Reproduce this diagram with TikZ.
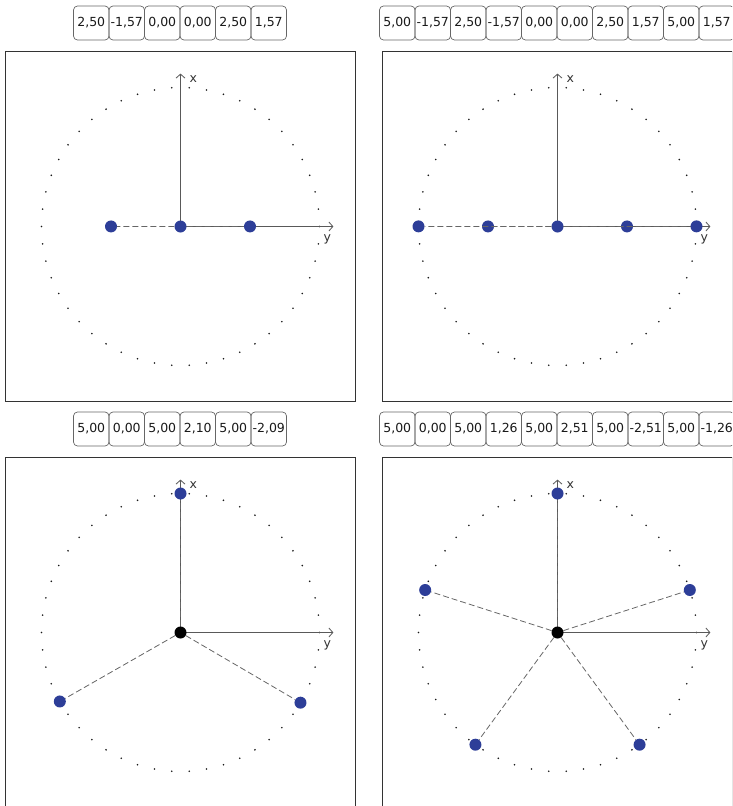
\documentclass[tikz,border=0pt]{standalone}
\usepackage{fontspec}
\setmainfont{DejaVu Sans}
\usepackage{xcolor}
\usetikzlibrary{arrows.meta, positioning}
\definecolor{ptblue}{HTML}{2D3E98}

\begin{document}
\begin{tikzpicture}[
  x=1pt, y=1pt,
  valbox/.style={rectangle, draw=black!60, line width=0.7pt, rounded corners=4pt, minimum width=35.5pt, minimum height=34pt, inner sep=0pt, outer sep=0pt, font=\fontsize{12.5}{14}\selectfont, text=black!90},
  panelframe/.style={rectangle, draw=black!80, line width=1.8pt, minimum size=350pt, inner sep=0pt, outer sep=0pt},
  ringdot/.style={fill=black!90},
  axisline/.style={-{Straight Barb[length=4pt, width=9pt]}, black!65, line width=0.8pt},
  axlabel/.style={inner sep=0pt, font=\fontsize{12.5}{14}\selectfont, text=black!80},
  spoke/.style={dash pattern=on 6pt off 3pt, black!60, line width=0.8pt},
  datapt/.style={circle, fill=ptblue, minimum size=12pt, inner sep=0pt},
  origindot/.style={circle, fill=black, minimum size=12pt, inner sep=0pt}
]
  \useasboundingbox (0,0) rectangle (732,-806);
  \clip (0,0) rectangle (732,-806);

  % value rows
  \node[valbox] (A1) at (91.25,-23) {2,50};
  \foreach \v [count=\i from 2, remember=\i as \j (initially 1)] in {{-1,57},{0,00},{0,00},{2,50},{1,57}}
    \node[valbox, right=0pt of A\j] (A\i) {\v};
  \node[valbox] (B1) at (397.25,-23) {5,00};
  \foreach \v [count=\i from 2, remember=\i as \j (initially 1)] in {{-1,57},{2,50},{-1,57},{0,00},{0,00},{2,50},{1,57},{5,00},{1,57}}
    \node[valbox, right=0pt of B\j] (B\i) {\v};
  \node[valbox] (D1) at (91.25,-429) {5,00};
  \foreach \v [count=\i from 2, remember=\i as \j (initially 1)] in {{0,00},{5,00},{2,10},{5,00},{-2,09}}
    \node[valbox, right=0pt of D\j] (D\i) {\v};
  \node[valbox] (E1) at (397.25,-429) {5,00};
  \foreach \v [count=\i from 2, remember=\i as \j (initially 1)] in {{0,00},{5,00},{1,26},{5,00},{2,51},{5,00},{-2,51},{5,00},{-1,26}}
    \node[valbox, right=0pt of E\j] (E\i) {\v};

  % panel 1
  \begin{scope}[shift={(180.5,-226.5)}, x=27.8pt, y=27.8pt]
    \node[panelframe] (F1) at (0,0) {};
    \foreach \k in {0,...,49} \fill[ringdot] ({7.2*\k}:5) circle (0.9pt);
    \coordinate (C1) at (0,0);
    \coordinate (X1) at (0,5.5);
    \coordinate (Y1) at (5.5,0);
    \draw[axisline] (C1) -- (X1);
    \draw[axisline] (C1) -- (Y1);
    \node[axlabel, right=9pt of X1, yshift=-5pt] (XL1) {x};
    \node[axlabel, below=8pt of Y1, xshift=-6pt] (YL1) {y};
    \foreach \r/\t [count=\i] in {2.5/-1.57, 0/0, 2.5/1.57}
      \node[datapt] (P1\i) at ({90-deg(\t)}:\r) {};
    \foreach \p in {1,3} \draw[spoke] (P12) -- (P1\p);
  \end{scope}

  % panel 2
  \begin{scope}[shift={(557.5,-226.5)}, x=27.8pt, y=27.8pt]
    \node[panelframe] (F2) at (0,0) {};
    \foreach \k in {0,...,49} \fill[ringdot] ({7.2*\k}:5) circle (0.9pt);
    \coordinate (C2) at (0,0);
    \coordinate (X2) at (0,5.5);
    \coordinate (Y2) at (5.5,0);
    \draw[axisline] (C2) -- (X2);
    \draw[axisline] (C2) -- (Y2);
    \node[axlabel, right=9pt of X2, yshift=-5pt] (XL2) {x};
    \node[axlabel, below=8pt of Y2, xshift=-6pt] (YL2) {y};
    \foreach \r/\t [count=\i] in {5/-1.57, 2.5/-1.57, 0/0, 2.5/1.57, 5/1.57}
      \node[datapt] (P2\i) at ({90-deg(\t)}:\r) {};
    \foreach \p in {1,2,4,5} \draw[spoke] (P23) -- (P2\p);
  \end{scope}

  % panel 3
  \begin{scope}[shift={(180.5,-632.5)}, x=27.8pt, y=27.8pt]
    \node[panelframe] (F3) at (0,0) {};
    \foreach \k in {0,...,49} \fill[ringdot] ({7.2*\k}:5) circle (0.9pt);
    \coordinate (C3) at (0,0);
    \coordinate (X3) at (0,5.5);
    \coordinate (Y3) at (5.5,0);
    \draw[axisline] (C3) -- (X3);
    \draw[axisline] (C3) -- (Y3);
    \node[axlabel, right=9pt of X3, yshift=-5pt] (XL3) {x};
    \node[axlabel, below=8pt of Y3, xshift=-6pt] (YL3) {y};
    \node[origindot] (O3) at (C3) {};
    \foreach \r/\t [count=\i] in {5/0, 5/2.10, 5/-2.09}
      \node[datapt] (P3\i) at ({90-deg(\t)}:\r) {};
    \foreach \p in {1,2,3} \draw[spoke] (O3) -- (P3\p);
  \end{scope}

  % panel 4
  \begin{scope}[shift={(557.5,-632.5)}, x=27.8pt, y=27.8pt]
    \node[panelframe] (F4) at (0,0) {};
    \foreach \k in {0,...,49} \fill[ringdot] ({7.2*\k}:5) circle (0.9pt);
    \coordinate (C4) at (0,0);
    \coordinate (X4) at (0,5.5);
    \coordinate (Y4) at (5.5,0);
    \draw[axisline] (C4) -- (X4);
    \draw[axisline] (C4) -- (Y4);
    \node[axlabel, right=9pt of X4, yshift=-5pt] (XL4) {x};
    \node[axlabel, below=8pt of Y4, xshift=-6pt] (YL4) {y};
    \node[origindot] (O4) at (C4) {};
    \foreach \r/\t [count=\i] in {5/0, 5/1.26, 5/2.51, 5/-2.51, 5/-1.26}
      \node[datapt] (P4\i) at ({90-deg(\t)}:\r) {};
    \foreach \p in {1,...,5} \draw[spoke] (O4) -- (P4\p);
  \end{scope}
\end{tikzpicture}
\end{document}
